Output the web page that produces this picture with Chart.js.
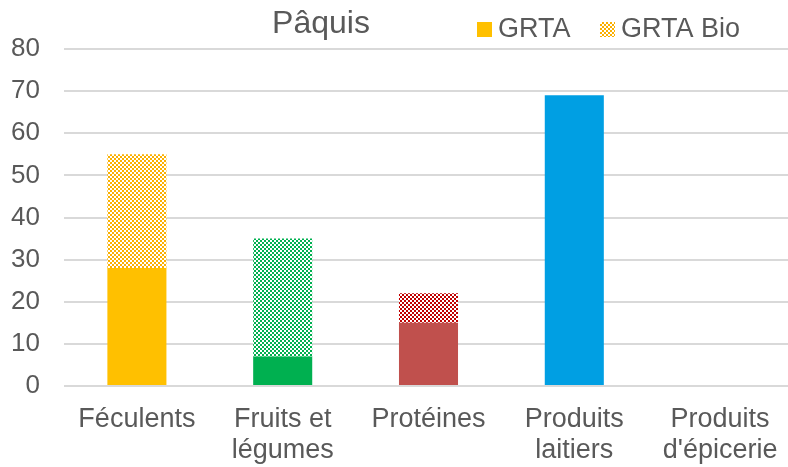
<!DOCTYPE html>
<html lang="fr">
<head>
<meta charset="utf-8">
<title>Pâquis</title>
<script src="https://cdn.jsdelivr.net/npm/chart.js@4/dist/chart.umd.min.js"></script>
<style>
	html, body { margin: 0; padding: 0; background: #fff; overflow: hidden; }
	#wrap { width: 800px; height: 467px; }
</style>
</head>
<body>
<div id="wrap"><canvas id="chart" width="800" height="467"></canvas></div>
<script>
const categories = [['Féculents'], ['Fruits et', 'légumes'], ['Protéines'], ['Produits', 'laitiers'], ['Produits', "d'épicerie"]];
const grtaValues = [28, 7, 15, 69, 0];
const grtaBioValues = [27, 28, 7, 0, 0];
const yTicks = [0, 10, 20, 30, 40, 50, 60, 70, 80];
const seriesNames = ['GRTA', 'GRTA Bio'];
const chartTitle = 'Pâquis';

const solidColors = ['#FFC000', '#00B050', '#C0504D', '#009FE3', '#7F7F7F'];
const patternColors = ['#FBB000', '#00B050', '#C00000', '#009FE3', '#7F7F7F'];
const textColor = '#595959';
const fontFamily = '"Liberation Sans", Arial, sans-serif';

function checker(color) {
	const tile = document.createElement('canvas');
	tile.width = 4;
	tile.height = 4;
	const ctx = tile.getContext('2d');
	ctx.fillStyle = '#ffffff';
	ctx.fillRect(0, 0, 4, 4);
	ctx.fillStyle = color;
	ctx.fillRect(0, 0, 2, 2);
	ctx.fillRect(2, 2, 2, 2);
	return ctx.createPattern(tile, 'repeat');
}

// title and legend sit on one line above the plot, drawn by hand
const headerPlugin = {
	id: 'header',
	afterDraw(chart) {
		const ctx = chart.ctx;
		ctx.save();
		ctx.fillStyle = textColor;
		ctx.textBaseline = 'alphabetic';
		ctx.textAlign = 'center';
		ctx.font = `32px ${fontFamily}`;
		ctx.fillText(chartTitle, 321, 33);

		ctx.textAlign = 'left';
		ctx.font = `27px ${fontFamily}`;
		ctx.fillStyle = solidColors[0];
		ctx.fillRect(477, 22, 15, 15);
		ctx.fillStyle = textColor;
		ctx.fillText(seriesNames[0], 498, 37);

		ctx.fillStyle = checker(patternColors[0]);
		ctx.fillRect(600, 22, 15, 15);
		ctx.fillStyle = textColor;
		ctx.fillText(seriesNames[1], 621, 37);
		ctx.restore();
	},
};

document.addEventListener('DOMContentLoaded', () => {
	const context = document.getElementById('chart').getContext('2d');

	new Chart(context, {
		type: 'bar',
		data: {
			labels: categories,
			datasets: [
				{
					label: seriesNames[0],
					data: grtaValues,
					backgroundColor: solidColors,
					borderWidth: 0,
				},
				{
					label: seriesNames[1],
					data: grtaBioValues,
					backgroundColor: patternColors.map(checker),
					borderWidth: 0,
				},
			],
		},
		options: {
			responsive: false,
			animation: false,
			layout: { padding: { top: 49, right: 7, left: 0, bottom: 0 } },
			datasets: {
				bar: { barPercentage: 0.405, categoryPercentage: 1 },
			},
			plugins: {
				legend: { display: false },
				title: { display: false },
				tooltip: { enabled: false },
			},
			scales: {
				x: {
					stacked: true,
					grid: { display: false },
					border: { display: false },
					ticks: {
						color: textColor,
						font: { family: fontFamily, size: 27, lineHeight: 1.15 },
						padding: 10,
						maxRotation: 0,
						autoSkip: false,
					},
					afterFit: (scale) => { scale.height = 81; },
				},
				y: {
					stacked: true,
					min: 0,
					max: 80,
					afterBuildTicks: (scale) => { scale.ticks = yTicks.map((value) => ({ value })); },
					grid: { color: '#D9D9D9', lineWidth: 2, drawTicks: false },
					border: { display: false },
					ticks: {
						color: textColor,
						font: { family: fontFamily, size: 26 },
						padding: 24,
					},
					afterFit: (scale) => { scale.width = 64; },
				},
			},
		},
		plugins: [headerPlugin],
	});
});
</script>
</body>
</html>
